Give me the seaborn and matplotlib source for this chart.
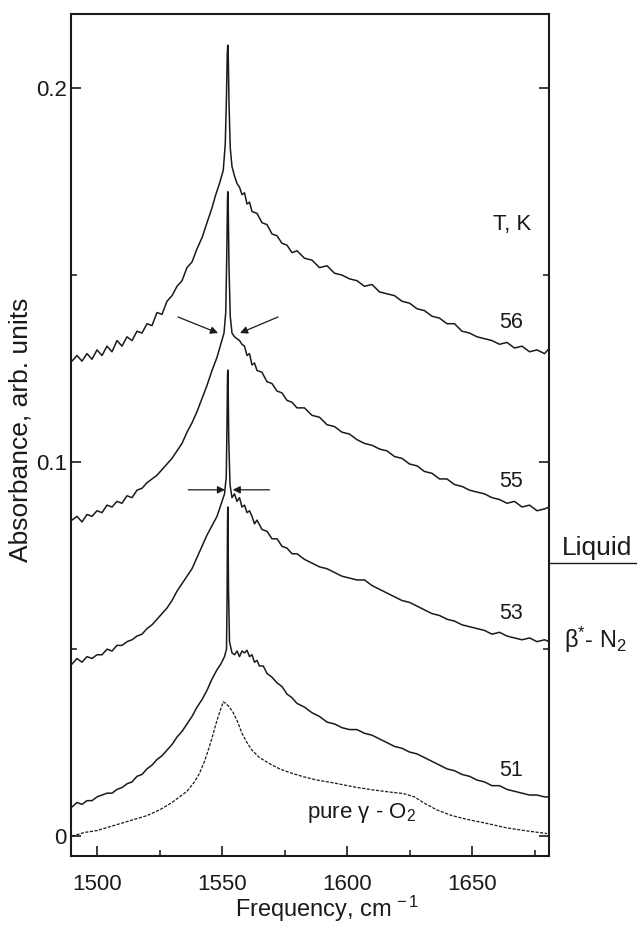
import matplotlib
matplotlib.use("Agg")
import matplotlib.pyplot as plt
import seaborn as sns
import pandas as pd
from matplotlib.lines import Line2D

# ---------------- data ----------------
f56 = [1490, 1492, 1494, 1496, 1498, 1500, 1502, 1504, 1506, 1508, 1510, 1512, 1514, 1516, 1518, 1520,
       1522, 1524, 1526, 1528, 1530, 1532, 1534, 1536, 1538, 1540, 1542, 1544, 1546, 1547.5, 1549, 1550.5,
       1551.3, 1551.8, 1552.1, 1552.3, 1552.5, 1552.8, 1553.3, 1554, 1555, 1556, 1557, 1558, 1559, 1560,
       1561, 1562, 1564, 1566, 1568, 1570, 1572, 1574, 1576, 1578, 1580, 1583, 1586, 1589, 1592, 1595,
       1598, 1601, 1604, 1607, 1610, 1613, 1616, 1619, 1622, 1625, 1628, 1631, 1634, 1637, 1640, 1643,
       1646, 1649, 1652, 1655, 1658, 1661, 1664, 1667, 1670, 1673, 1676, 1679, 1681]
a56 = [0.127, 0.1285, 0.127, 0.129, 0.1275, 0.130, 0.1285, 0.131, 0.1295, 0.1325, 0.131, 0.1335, 0.1325,
       0.135, 0.1345, 0.137, 0.1365, 0.140, 0.1395, 0.143, 0.1445, 0.147, 0.1485, 0.152, 0.1535, 0.157,
       0.160, 0.164, 0.168, 0.1715, 0.1745, 0.178, 0.185, 0.198, 0.209, 0.2115, 0.209, 0.196, 0.184,
       0.179, 0.1765, 0.1745, 0.1735, 0.1715, 0.172, 0.169, 0.1695, 0.167, 0.1665, 0.164, 0.1635, 0.161,
       0.1605, 0.1585, 0.158, 0.156, 0.1565, 0.1545, 0.154, 0.152, 0.1525, 0.1505, 0.150, 0.149, 0.1485,
       0.147, 0.1475, 0.1455, 0.145, 0.1445, 0.143, 0.1425, 0.141, 0.1405, 0.139, 0.1385, 0.137, 0.137,
       0.135, 0.1345, 0.1335, 0.133, 0.1325, 0.1315, 0.132, 0.1305, 0.131, 0.1295, 0.130, 0.129, 0.1305]

f55 = [1490, 1492, 1494, 1496, 1498, 1500, 1502, 1504, 1506, 1508, 1510, 1512, 1514, 1516, 1518, 1520,
       1522, 1524, 1526, 1528, 1530, 1532, 1534, 1536, 1538, 1540, 1542, 1544, 1546, 1548, 1549.5, 1550.8,
       1551.5, 1551.9, 1552.2, 1552.3, 1552.5, 1552.8, 1553.3, 1554, 1555, 1556, 1557, 1558, 1559, 1560,
       1561, 1562, 1563, 1564, 1566, 1568, 1570, 1572, 1574, 1576, 1578, 1580, 1583, 1586, 1589, 1592,
       1595, 1598, 1601, 1604, 1607, 1610, 1613, 1616, 1619, 1622, 1625, 1628, 1631, 1634, 1637, 1640,
       1643, 1646, 1649, 1652, 1655, 1658, 1661, 1664, 1667, 1670, 1673, 1676, 1679, 1681]
a55 = [0.0845, 0.0855, 0.084, 0.086, 0.0855, 0.087, 0.0865, 0.0885, 0.088, 0.0895, 0.089, 0.091, 0.0905,
       0.0925, 0.093, 0.0945, 0.0955, 0.0965, 0.098, 0.0995, 0.101, 0.103, 0.105, 0.108, 0.1105, 0.1135,
       0.117, 0.1205, 0.1245, 0.128, 0.1315, 0.1345, 0.140, 0.155, 0.170, 0.1723, 0.168, 0.152, 0.139,
       0.1345, 0.1335, 0.133, 0.1325, 0.1315, 0.131, 0.1285, 0.129, 0.126, 0.1265, 0.1245, 0.124, 0.1215,
       0.121, 0.119, 0.1185, 0.1165, 0.116, 0.1145, 0.1145, 0.1125, 0.112, 0.110, 0.1095, 0.108, 0.1075,
       0.106, 0.105, 0.1045, 0.1035, 0.103, 0.1015, 0.101, 0.0995, 0.099, 0.0975, 0.097, 0.0955, 0.0955,
       0.094, 0.0935, 0.0925, 0.092, 0.0915, 0.0905, 0.090, 0.089, 0.0895, 0.088, 0.0885, 0.087, 0.0875,
       0.088]

f53 = [1490, 1492, 1494, 1496, 1498, 1500, 1502, 1504, 1506, 1508, 1510, 1512, 1514, 1516, 1518, 1520,
       1522, 1524, 1526, 1528, 1530, 1532, 1534, 1536, 1538, 1540, 1542, 1544, 1546, 1548, 1549.5, 1551,
       1551.7, 1552.0, 1552.2, 1552.3, 1552.45, 1552.7, 1553.2, 1554, 1555, 1556, 1557, 1558, 1559, 1560,
       1561, 1562, 1563, 1564, 1566, 1568, 1570, 1572, 1574, 1576, 1578, 1580, 1583, 1586, 1589, 1592,
       1595, 1598, 1601, 1604, 1607, 1610, 1613, 1616, 1619, 1622, 1625, 1628, 1631, 1634, 1637, 1640,
       1643, 1646, 1649, 1652, 1655, 1658, 1661, 1664, 1667, 1670, 1673, 1676, 1679, 1681]
a53 = [0.046, 0.0475, 0.0465, 0.048, 0.0475, 0.0485, 0.0485, 0.050, 0.0495, 0.051, 0.051, 0.052, 0.0525,
       0.0535, 0.054, 0.0555, 0.0565, 0.058, 0.0595, 0.061, 0.063, 0.0655, 0.0675, 0.0695, 0.0715, 0.0745,
       0.0775, 0.0805, 0.083, 0.0855, 0.0885, 0.0915, 0.096, 0.110, 0.1225, 0.1246, 0.121, 0.106, 0.094,
       0.0905, 0.0915, 0.0895, 0.0905, 0.088, 0.0885, 0.0865, 0.087, 0.0855, 0.0835, 0.0845, 0.082, 0.0815,
       0.0795, 0.0795, 0.0775, 0.077, 0.0755, 0.0755, 0.074, 0.073, 0.072, 0.0715, 0.0705, 0.0695, 0.069,
       0.0685, 0.0685, 0.067, 0.066, 0.065, 0.064, 0.063, 0.0625, 0.0615, 0.0605, 0.0595, 0.059, 0.058,
       0.0575, 0.0565, 0.056, 0.0555, 0.055, 0.054, 0.0545, 0.0535, 0.053, 0.0525, 0.053, 0.052, 0.0525,
       0.052]

f51 = [1490, 1492, 1494, 1496, 1498, 1500, 1502, 1504, 1506, 1508, 1510, 1512, 1514, 1516, 1518, 1520,
       1522, 1524, 1526, 1528, 1530, 1532, 1534, 1536, 1538, 1540, 1542, 1544, 1546, 1548, 1549.5, 1551,
       1551.8, 1552.05, 1552.2, 1552.3, 1552.4, 1552.6, 1553, 1554, 1555, 1556, 1557, 1558, 1559, 1560,
       1561, 1562, 1563, 1564, 1565, 1566.5, 1568, 1570, 1572, 1574, 1576, 1578, 1580, 1583, 1586, 1589,
       1592, 1595, 1598, 1601, 1604, 1607, 1610, 1613, 1616, 1619, 1622, 1625, 1628, 1631, 1634, 1637,
       1640, 1643, 1646, 1649, 1652, 1655, 1658, 1661, 1664, 1667, 1670, 1673, 1676, 1679, 1681]
a51 = [0.0078, 0.009, 0.0085, 0.0095, 0.0095, 0.0105, 0.011, 0.0115, 0.0115, 0.0125, 0.013, 0.014, 0.0145,
       0.016, 0.0165, 0.018, 0.019, 0.0205, 0.0215, 0.023, 0.0245, 0.0265, 0.028, 0.030, 0.032, 0.0345,
       0.0365, 0.039, 0.042, 0.0445, 0.046, 0.048, 0.050, 0.065, 0.083, 0.088, 0.084, 0.066, 0.052, 0.049,
       0.0485, 0.0495, 0.048, 0.0495, 0.049, 0.0497, 0.048, 0.0485, 0.0465, 0.047, 0.0455, 0.0455, 0.0435,
       0.0425, 0.041, 0.040, 0.038, 0.037, 0.0355, 0.0345, 0.033, 0.032, 0.0305, 0.030, 0.029, 0.0285,
       0.0285, 0.0275, 0.027, 0.026, 0.025, 0.024, 0.0235, 0.0225, 0.022, 0.021, 0.020, 0.019, 0.018,
       0.0175, 0.0165, 0.016, 0.015, 0.0145, 0.0135, 0.0135, 0.0125, 0.012, 0.0115, 0.011, 0.011, 0.0105,
       0.0105]

fO2 = [1490, 1495, 1500, 1505, 1510, 1515, 1520, 1525, 1530, 1533, 1536, 1539, 1541, 1543, 1545, 1546.5,
       1548, 1549.5, 1550.5, 1551.5, 1553, 1554.5, 1556, 1558, 1560, 1562, 1565, 1569, 1573, 1578, 1582.5,
       1588, 1595, 1602.5, 1610, 1617, 1622.5, 1627, 1631, 1636, 1642, 1648, 1656, 1664, 1672, 1680]
aO2 = [0.0, 0.001, 0.0015, 0.0025, 0.0035, 0.0045, 0.0055, 0.007, 0.009, 0.0105, 0.012, 0.0145, 0.0168,
       0.020, 0.024, 0.0274, 0.031, 0.034, 0.0359, 0.0355, 0.0345, 0.033, 0.031, 0.0275, 0.025, 0.023,
       0.021, 0.0194, 0.018, 0.0168, 0.0159, 0.015, 0.0142, 0.0132, 0.0124, 0.0118, 0.0114, 0.0105, 0.0088,
       0.007, 0.0055, 0.0045, 0.0034, 0.0022, 0.0014, 0.0007]

temps = ["56", "55", "53", "51"]
x_ticks = [1500, 1550, 1600, 1650]
y_ticks = [0, 0.1, 0.2]
y_tick_labels = ["0", "0.1", "0.2"]

# ---------------- style ----------------
sns.set_style("ticks")
plt.rcParams["font.family"] = ["Liberation Sans", "DejaVu Sans"]
plt.rcParams["mathtext.fontset"] = "custom"
plt.rcParams["mathtext.rm"] = "Liberation Sans"
plt.rcParams["mathtext.it"] = "Liberation Sans:italic"
plt.rcParams["mathtext.default"] = "regular"

fig = plt.figure(figsize=(6.37, 9.25), dpi=100)
ax = fig.add_axes([71 / 637, 1 - 856 / 925, (549 - 71) / 637, (856 - 14) / 925])

ink = "#1a1a1a"
for f, a in [(f56, a56), (f55, a55), (f53, a53), (f51, a51)]:
    df = pd.DataFrame({"freq": f, "abs": a})
    sns.lineplot(data=df, x="freq", y="abs", ax=ax, sort=False, estimator=None,
                 color=ink, lw=1.1)
dfo = pd.DataFrame({"freq": fO2, "abs": aO2})
sns.lineplot(data=dfo, x="freq", y="abs", ax=ax, sort=False, estimator=None,
             color=ink, lw=0.9, linestyle=(0, (2.5, 1.2)))

ax.set_xlim(1489.6, 1680.8)
ax.set_ylim(-0.0053, 0.2198)
ax.set_xticks(x_ticks)
ax.set_xticks([1525, 1575, 1625, 1675], minor=True)
ax.set_yticks(y_ticks)
ax.set_yticklabels(y_tick_labels)
ax.set_yticks([0.05, 0.15], minor=True)

for s in ax.spines.values():
    s.set_linewidth(1.5)
    s.set_color(ink)
ax.tick_params(axis="both", which="major", direction="in", length=7.5, width=1.2,
               labelsize=16, colors=ink, top=False, right=True)
ax.tick_params(axis="both", which="minor", direction="in", length=4.5, width=1.2,
               top=False, right=True)
ax.tick_params(axis="x", which="major", pad=13)
ax.tick_params(axis="y", which="major", pad=3)

ax.set_xlabel("Frequency, cm$^{\\,-1}$", fontsize=17, color=ink)
ax.set_ylabel("Absorbance, arb. units", fontsize=19, color=ink)
ax.xaxis.set_label_coords(0.535, -0.045)
ax.yaxis.set_label_coords(-0.08, 0.506)

# temperature labels
ax.text(1666, 0.1634, "T, K", fontsize=16, ha="center", va="center", color=ink)
label_y = [0.1374, 0.0949, 0.0594, 0.0176]
for t, yv in zip(temps, label_y):
    ax.text(1665.5, yv, t, fontsize=15.5, ha="center", va="center", color=ink)
ax.text(1606, 0.0048, "pure γ - O$_2$", fontsize=16, ha="center", va="baseline", color=ink)

# FWHM arrows
arrow_kw = dict(arrowstyle="-|>", color=ink, lw=0.9, mutation_scale=11,
                shrinkA=0, shrinkB=0)
ax.annotate("", xy=(1548.4, 0.1345), xytext=(1532.4, 0.1388), arrowprops=arrow_kw)
ax.annotate("", xy=(1557.2, 0.1345), xytext=(1572.4, 0.1388), arrowprops=arrow_kw)
ax.annotate("", xy=(1551.2, 0.0926), xytext=(1536.5, 0.0926), arrowprops=arrow_kw)
ax.annotate("", xy=(1554.3, 0.0926), xytext=(1569.0, 0.0926), arrowprops=arrow_kw)

# phase labels outside right
fig.add_artist(Line2D([549 / 637, 1.0], [1 - 563 / 925, 1 - 563 / 925],
                      transform=fig.transFigure, color=ink, lw=1.0))
fig.text(597 / 637, 1 - 555 / 925, "Liquid", fontsize=19, ha="center", va="baseline", color=ink)
fig.text(595 / 637, 1 - 648 / 925, "β$^{*}$- N$_{2}$", fontsize=17, ha="center", va="baseline",
         color=ink)

fig.savefig("out.png", dpi=100)
